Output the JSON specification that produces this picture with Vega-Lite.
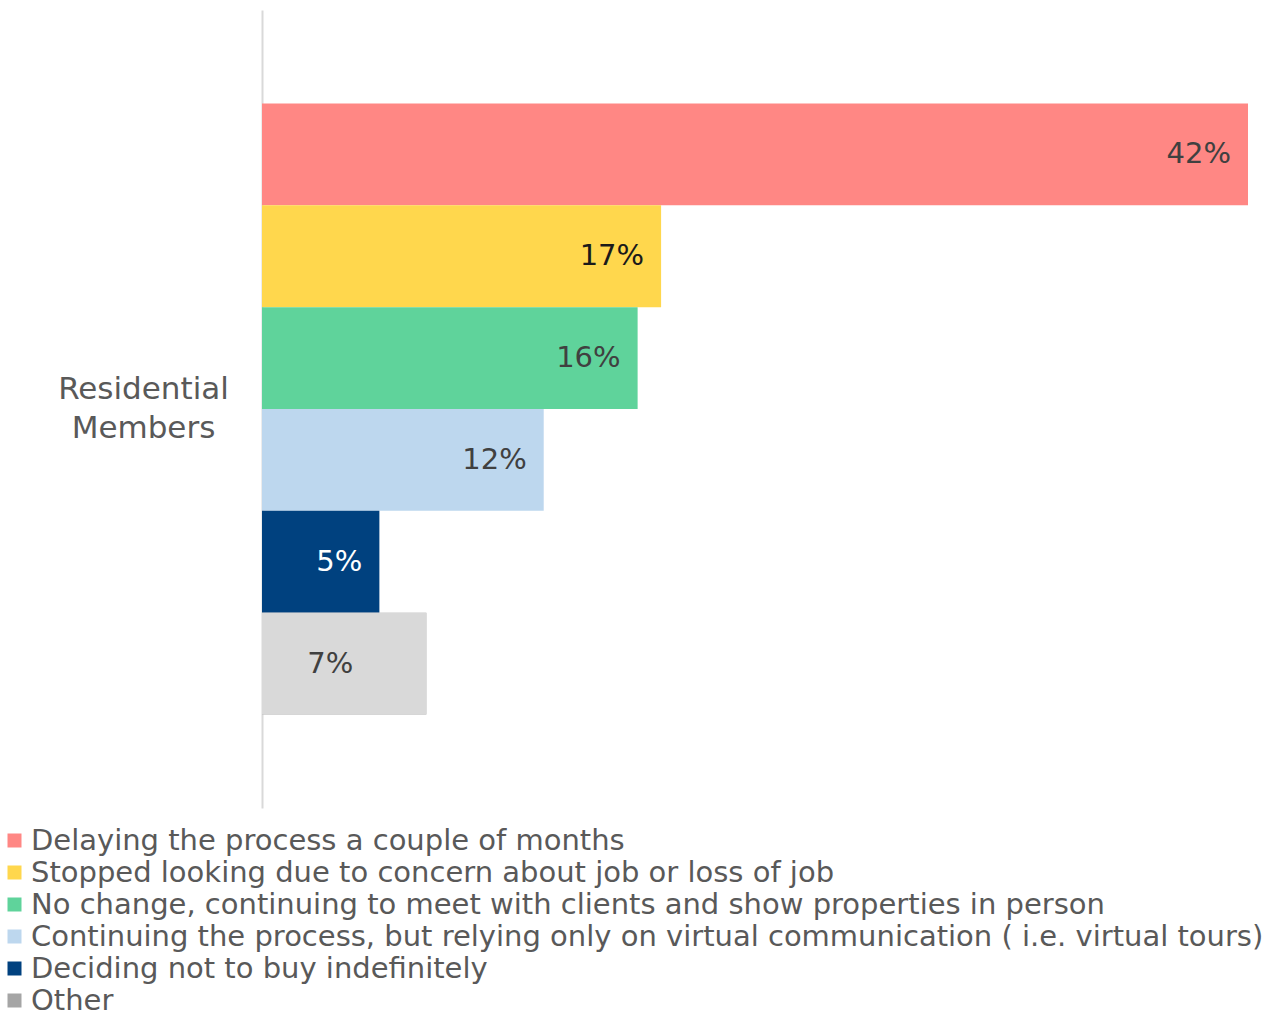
{
  "$schema": "https://vega.github.io/schema/vega-lite/v6.json",
  "width": 986,
  "height": 798,
  "autosize": "none",
  "padding": {"left": 262, "top": 10, "right": 31, "bottom": 202},
  "background": "white",
  "config": {"view": {"stroke": null}, "font": "DejaVu Sans"},
  "data": {
    "values": [
      {"group": "Residential Members", "series": "Delaying the process a couple of months", "value": 0.42},
      {"group": "Residential Members", "series": "Stopped looking due to concern about job or loss of job", "value": 0.17},
      {"group": "Residential Members", "series": "No change, continuing to meet with clients and show properties in person", "value": 0.16},
      {"group": "Residential Members", "series": "Continuing the process, but relying only on virtual communication ( i.e. virtual tours)", "value": 0.12},
      {"group": "Residential Members", "series": "Deciding not to buy indefinitely", "value": 0.05},
      {"group": "Residential Members", "series": "Other", "value": 0.07}
    ]
  },
  "encoding": {
    "y": {
      "field": "group", "type": "nominal", "title": null,
      "scale": {"paddingInner": 0, "paddingOuter": 0.153},
      "axis": {
        "ticks": false, "tickSize": 0, "domainColor": "#D9D9D9", "domainWidth": 2,
        "labelExpr": "['Residential', 'Members']",
        "labelAlign": "center", "labelBaseline": "middle", "labelPadding": 119,
        "labelOffset": -19,
        "labelFontSize": 31, "labelColor": "#595959", "labelLineHeight": 39,
        "labelFont": "DejaVu Sans"
      }
    },
    "yOffset": {
      "field": "series", "type": "nominal", "sort": null,
      "scale": {"paddingInner": 0, "paddingOuter": 0}
    },
    "x": {
      "field": "value", "type": "quantitative",
      "scale": {"domain": [0, 0.42], "nice": false},
      "axis": null
    }
  },
  "layer": [
    {
      "mark": {"type": "bar"},
      "encoding": {
        "color": {
          "field": "series", "type": "nominal", "sort": null, "title": null,
          "scale": {
            "domain": [
              "Delaying the process a couple of months",
              "Stopped looking due to concern about job or loss of job",
              "No change, continuing to meet with clients and show properties in person",
              "Continuing the process, but relying only on virtual communication ( i.e. virtual tours)",
              "Deciding not to buy indefinitely",
              "Other"
            ],
            "range": ["#FF8784", "#FFD74D", "#5FD39B", "#BDD7EE", "#00417F", "#A5A5A5"]
          },
          "legend": {
            "orient": "none", "legendX": -262, "legendY": 816,
            "direction": "vertical",
            "symbolType": "square", "symbolSize": 196, "symbolStrokeWidth": 0,
            "labelFontSize": 29, "labelColor": "#595959", "labelFont": "DejaVu Sans",
            "labelOffset": 2, "rowPadding": 2, "labelLimit": 1300
          }
        }
      }
    },
    {
      "transform": [{"filter": "datum.series === 'Other'"}],
      "mark": {"type": "bar", "color": "#D9D9D9"},
      "encoding": {}
    },
    {
      "transform": [{"filter": "datum.series !== 'Other'"}],
      "mark": {"type": "text", "align": "right", "baseline": "middle", "dx": -17, "fontSize": 29, "font": "DejaVu Sans"},
      "encoding": {
        "text": {"field": "value", "type": "quantitative", "format": ".0%"},
        "color": {
          "condition": [
            {"test": "datum.series === 'Deciding not to buy indefinitely'", "value": "#FFFFFF"},
            {"test": "datum.series === 'Stopped looking due to concern about job or loss of job'", "value": "#1A1A1A"}
          ],
          "value": "#404040"
        }
      }
    },
    {
      "transform": [{"filter": "datum.series === 'Other'"}],
      "mark": {"type": "text", "align": "right", "baseline": "middle", "dx": -73, "fontSize": 29, "font": "DejaVu Sans"},
      "encoding": {
        "text": {"field": "value", "type": "quantitative", "format": ".0%"},
        "color": {"value": "#404040"}
      }
    }
  ]
}
